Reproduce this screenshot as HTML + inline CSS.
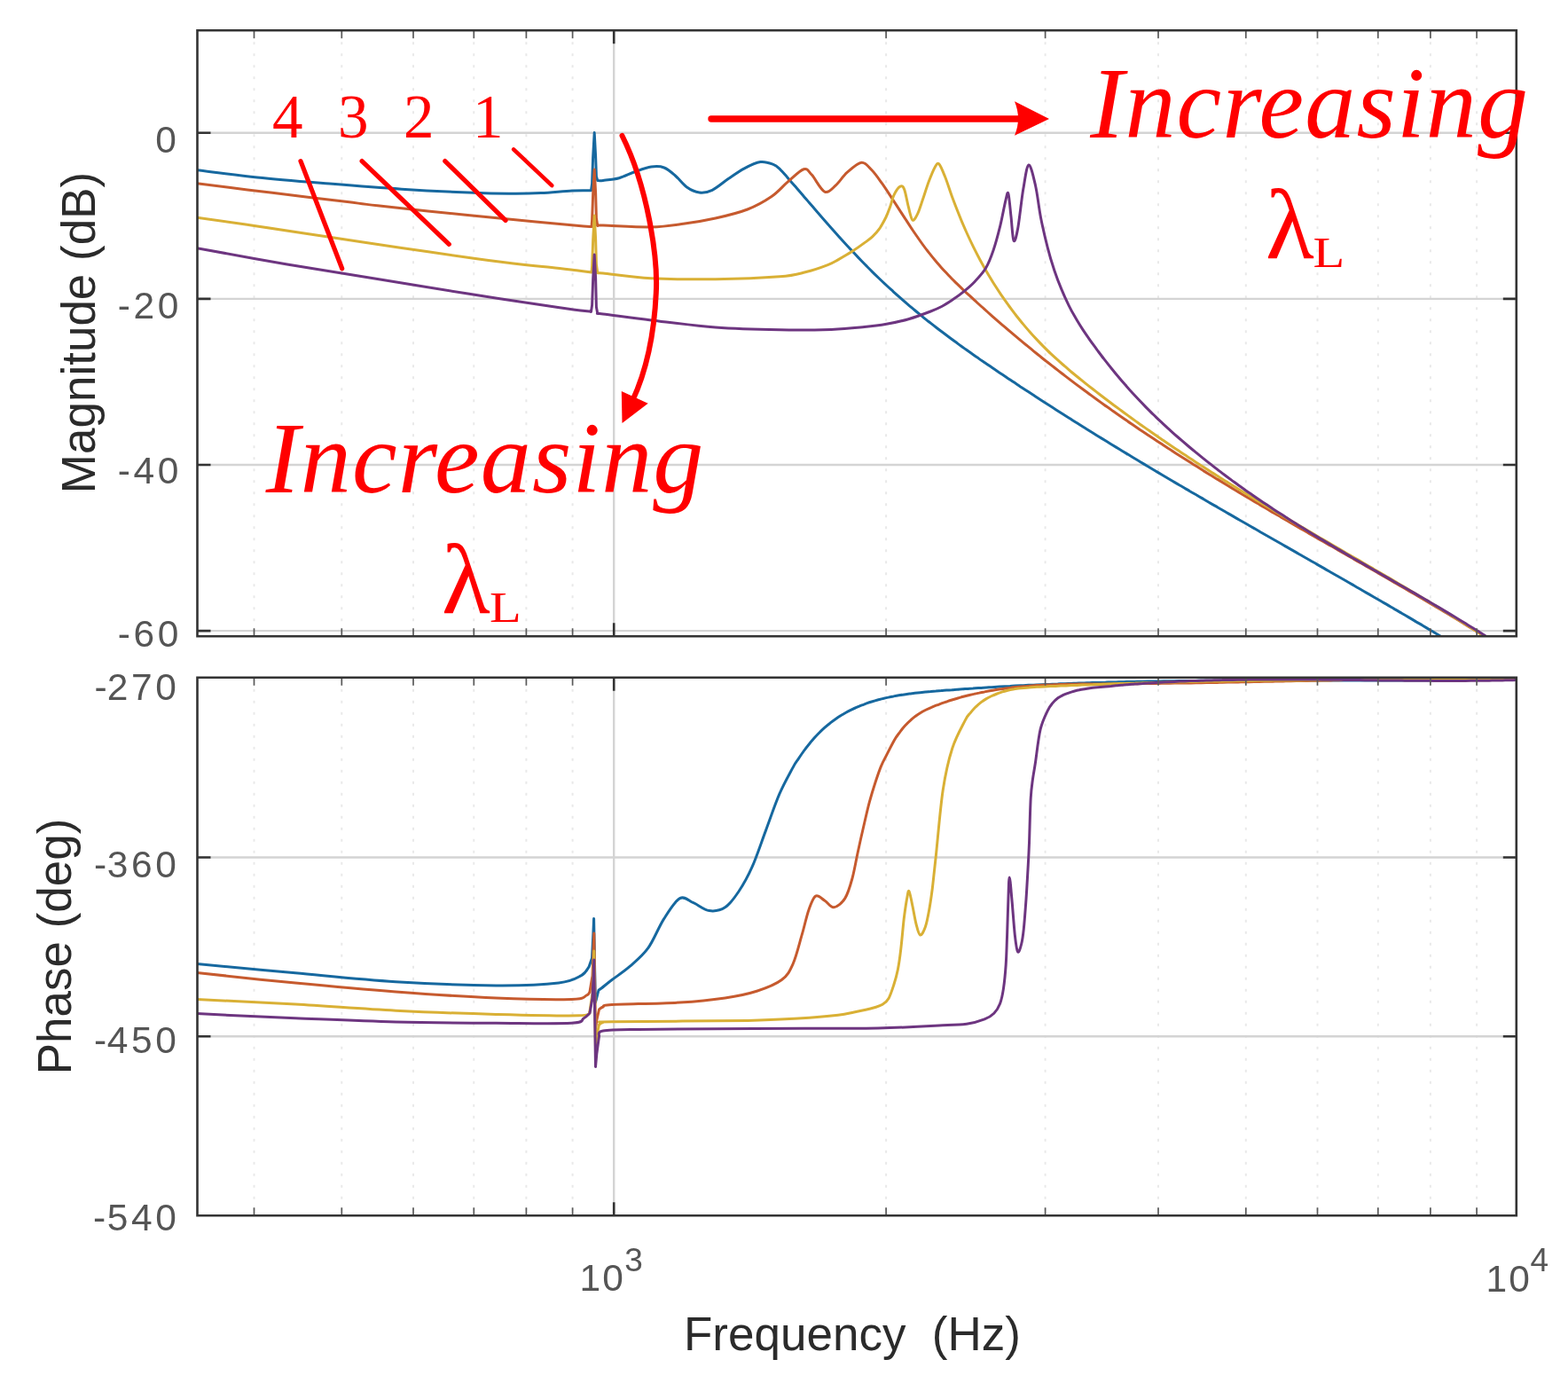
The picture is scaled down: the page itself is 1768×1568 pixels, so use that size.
<!DOCTYPE html><html><head><meta charset="utf-8"><title>Bode plot</title><style>
html,body{margin:0;padding:0;background:#fff;}svg{display:block;}
.tk{font-family:"Liberation Sans",Arial,sans-serif;font-size:42.5px;fill:#555;letter-spacing:3.6px;}
.lb{font-family:"Liberation Sans",Arial,sans-serif;font-size:53px;fill:#2b2b2b;}
.rd{font-family:"Liberation Serif","Times New Roman",serif;fill:#ff0000;}
</style></head><body>
<svg width="1768" height="1568" viewBox="0 0 1768 1568">
<rect width="1768" height="1568" fill="#fff"/>
<defs><clipPath id="cm"><rect x="222.5" y="34.3" width="1487.3" height="682.9"/></clipPath>
<clipPath id="cp"><rect x="222.5" y="763.8" width="1487.3" height="606.5"/></clipPath></defs>
<path d="M286.5 34.3V717.2M385.3 34.3V717.2M466.0 34.3V717.2M534.3 34.3V717.2M593.4 34.3V717.2M645.6 34.3V717.2M999.1 34.3V717.2M1178.6 34.3V717.2M1306.0 34.3V717.2M1404.8 34.3V717.2M1485.5 34.3V717.2M1553.8 34.3V717.2M1612.9 34.3V717.2M1665.1 34.3V717.2M286.5 763.8V1370.3M385.3 763.8V1370.3M466.0 763.8V1370.3M534.3 763.8V1370.3M593.4 763.8V1370.3M645.6 763.8V1370.3M999.1 763.8V1370.3M1178.6 763.8V1370.3M1306.0 763.8V1370.3M1404.8 763.8V1370.3M1485.5 763.8V1370.3M1553.8 763.8V1370.3M1612.9 763.8V1370.3M1665.1 763.8V1370.3" stroke="#e9e9e9" stroke-width="2" stroke-dasharray="3 10" fill="none"/>
<path d="M222.5 149.8H1709.8M222.5 336.9H1709.8M222.5 524.0H1709.8M222.5 711.1H1709.8M222.5 966.5H1709.8M222.5 1168.3H1709.8M692.2 34.3V717.2M692.2 763.8V1370.3" stroke="#d4d4d4" stroke-width="2.4" fill="none"/>
<g clip-path="url(#cm)" fill="none" stroke-width="3" stroke-linejoin="round">
<path d="M200.0 189.0C203.7 189.4 207.0 189.9 222.0 191.7C237.0 193.5 265.1 197.4 290.0 200.0C314.9 202.6 344.4 204.9 371.5 207.1C398.6 209.3 425.8 211.5 452.9 213.2C480.0 214.9 513.6 216.5 534.3 217.3C555.0 218.2 564.4 218.2 577.0 218.3C589.6 218.4 598.7 218.2 610.0 217.6C621.3 217.0 635.6 215.5 645.0 215.0C654.4 214.5 662.9 214.8 666.5 214.8L667.6 207.0L668.6 178.0L670.2 149.5L671.6 176.0L672.4 199.0L673.8 203.5C674.6 203.5 675.9 203.9 680.0 203.4C684.1 202.9 692.1 202.3 698.1 200.7C704.1 199.0 710.2 195.6 716.2 193.5C722.2 191.4 728.9 188.8 734.3 188.1C739.7 187.3 744.3 187.3 748.8 189.0C753.3 190.7 757.2 194.4 761.4 198.0C765.6 201.6 769.6 207.5 774.1 210.7C778.6 213.9 783.8 216.4 788.6 217.0C793.4 217.6 797.7 216.9 803.1 214.3C808.5 211.7 815.2 205.7 821.2 201.6C827.2 197.5 833.3 193.1 839.3 189.9C845.3 186.7 852.0 183.4 857.4 182.6C862.8 181.8 868.1 183.9 871.9 185.3C875.7 186.7 877.3 188.8 880.0 191.3C882.7 193.8 885.3 197.2 888.0 200.2C890.6 203.3 893.3 206.3 895.9 209.3C898.6 212.4 901.2 215.5 903.9 218.5C906.5 221.6 909.2 224.7 911.8 227.7C914.5 230.8 917.1 233.9 919.8 237.0C922.4 240.0 925.1 243.1 927.8 246.2C930.4 249.2 933.1 252.2 935.7 255.2C938.4 258.2 941.0 261.2 943.7 264.2C946.3 267.2 949.0 270.1 951.6 273.0C954.3 275.9 956.9 278.8 959.6 281.6C962.2 284.5 964.9 287.3 967.6 290.1C970.2 292.8 972.9 295.6 975.5 298.3C978.2 301.0 980.8 303.7 983.5 306.3C986.1 308.9 988.8 311.5 991.4 314.0C994.1 316.6 996.7 319.1 999.4 321.5C1002.0 324.0 1004.7 326.4 1007.3 328.8C1010.0 331.2 1012.7 333.6 1015.3 335.9C1018.0 338.3 1020.6 340.6 1023.3 342.8C1025.9 345.1 1028.6 347.3 1031.2 349.5C1033.9 351.8 1036.5 353.9 1039.2 356.1C1041.8 358.3 1044.5 360.4 1047.1 362.5C1049.8 364.6 1052.4 366.7 1055.1 368.7C1057.8 370.8 1060.4 372.8 1063.1 374.8C1065.7 376.8 1068.4 378.8 1071.0 380.8C1073.7 382.8 1076.3 384.7 1079.0 386.6C1081.6 388.6 1084.3 390.5 1086.9 392.4C1089.6 394.3 1092.2 396.2 1094.9 398.0C1097.6 399.9 1100.2 401.8 1102.9 403.6C1105.5 405.5 1108.2 407.3 1110.8 409.1C1113.5 410.9 1116.1 412.8 1118.8 414.6C1121.4 416.4 1124.1 418.2 1126.7 419.9C1129.4 421.7 1132.0 423.5 1134.7 425.3C1137.3 427.1 1140.0 428.8 1142.7 430.6C1145.3 432.4 1148.0 434.1 1150.6 435.9C1153.3 437.6 1155.9 439.4 1158.6 441.1C1161.2 442.9 1163.9 444.6 1166.5 446.3C1169.2 448.1 1171.8 449.8 1174.5 451.5C1177.1 453.2 1179.8 454.9 1182.4 456.6C1185.1 458.3 1187.8 460.0 1190.4 461.7C1193.1 463.4 1195.7 465.1 1198.4 466.8C1201.0 468.5 1203.7 470.2 1206.3 471.8C1209.0 473.5 1211.6 475.2 1214.3 476.8C1216.9 478.5 1219.6 480.2 1222.2 481.8C1224.9 483.5 1227.6 485.1 1230.2 486.8C1232.9 488.4 1235.5 490.1 1238.2 491.7C1240.8 493.3 1243.5 495.0 1246.1 496.6C1248.8 498.2 1251.4 499.9 1254.1 501.5C1256.7 503.1 1259.4 504.7 1262.0 506.3C1264.7 507.9 1267.3 509.5 1270.0 511.1C1272.7 512.8 1275.3 514.4 1278.0 516.0C1280.6 517.5 1283.3 519.1 1285.9 520.7C1288.6 522.3 1291.2 523.9 1293.9 525.5C1296.5 527.1 1299.2 528.7 1301.8 530.2C1304.5 531.8 1307.1 533.4 1309.8 535.0C1312.4 536.5 1315.1 538.1 1317.8 539.7C1320.4 541.2 1323.1 542.8 1325.7 544.4C1328.4 545.9 1331.0 547.5 1333.7 549.0C1336.3 550.6 1339.0 552.1 1341.6 553.7C1344.3 555.2 1346.9 556.8 1349.6 558.3C1352.2 559.9 1354.9 561.4 1357.6 563.0C1360.2 564.5 1362.9 566.0 1365.5 567.6C1368.2 569.1 1370.8 570.7 1373.5 572.2C1376.1 573.7 1378.8 575.3 1381.4 576.8C1384.1 578.3 1386.7 579.9 1389.4 581.4C1392.0 582.9 1394.7 584.4 1397.3 586.0C1400.0 587.5 1402.7 589.0 1405.3 590.5C1408.0 592.1 1410.6 593.6 1413.3 595.1C1415.9 596.6 1418.6 598.1 1421.2 599.7C1423.9 601.2 1426.5 602.7 1429.2 604.2C1431.8 605.7 1434.5 607.3 1437.1 608.8C1439.8 610.3 1442.4 611.8 1445.1 613.3C1447.8 614.8 1450.4 616.4 1453.1 617.9C1455.7 619.4 1458.4 620.9 1461.0 622.4C1463.7 623.9 1466.3 625.5 1469.0 627.0C1471.6 628.5 1474.3 630.0 1476.9 631.5C1479.6 633.0 1482.2 634.6 1484.9 636.1C1487.6 637.6 1490.2 639.1 1492.9 640.6C1495.5 642.2 1498.2 643.7 1500.8 645.2C1503.5 646.7 1506.1 648.2 1508.8 649.8C1511.4 651.3 1514.1 652.8 1516.7 654.3C1519.4 655.9 1522.0 657.4 1524.7 658.9C1527.3 660.4 1530.0 662.0 1532.7 663.5C1535.3 665.0 1538.0 666.5 1540.6 668.1C1543.3 669.6 1545.9 671.1 1548.6 672.7C1551.2 674.2 1553.9 675.8 1556.5 677.3C1559.2 678.8 1561.8 680.4 1564.5 681.9C1567.1 683.5 1569.8 685.0 1572.4 686.6C1575.1 688.1 1577.8 689.7 1580.4 691.2C1583.1 692.8 1585.7 694.3 1588.4 695.9C1591.0 697.4 1593.7 699.0 1596.3 700.6C1599.0 702.1 1601.6 703.7 1604.3 705.2C1606.9 706.8 1609.6 708.4 1612.2 710.0C1614.9 711.5 1617.6 713.1 1620.2 714.7C1622.9 716.3 1625.5 717.9 1628.2 719.4C1630.8 721.0 1633.5 722.6 1636.1 724.2C1638.8 725.8 1641.4 727.4 1644.1 729.0C1646.7 730.6 1649.4 732.2 1652.0 733.8C1654.7 735.4 1658.7 737.8 1660.0 738.6" stroke="#16689f"/>
<path d="M200.0 203.8C203.7 204.3 208.8 205.1 222.0 206.8C235.2 208.5 260.2 211.6 279.0 213.9C297.8 216.2 316.2 218.4 335.0 220.7C353.8 223.0 376.6 225.7 391.7 227.5C406.8 229.3 403.0 229.3 425.6 231.8C448.2 234.3 497.7 239.6 527.4 242.6C557.1 245.6 583.6 248.1 604.0 250.0C624.4 251.9 639.5 253.4 650.0 254.3C660.5 255.2 664.2 255.4 667.0 255.6L667.6 248.0L668.7 218.0L670.2 191.0L671.6 217.0L672.4 246.0L673.8 254.5C674.6 254.4 669.9 253.9 680.0 254.1C690.1 254.3 719.2 256.2 734.3 255.9C749.4 255.6 758.4 254.0 770.5 252.3C782.6 250.7 794.6 248.7 806.7 246.0C818.8 243.3 832.4 240.1 842.9 236.0C853.4 231.9 862.5 226.6 870.0 221.5C877.5 216.4 882.1 210.3 888.1 205.2C894.1 200.1 901.7 192.2 906.2 190.8C910.7 189.5 911.4 192.9 915.3 197.1C919.2 201.3 925.3 214.1 929.8 216.1C934.3 218.1 938.2 212.5 942.4 208.9C946.6 205.3 950.2 198.7 955.1 194.4C960.0 190.1 966.9 183.6 971.5 183.2C976.1 182.8 979.2 187.9 983.0 191.8C986.8 195.7 990.7 201.4 994.5 206.7C998.3 212.0 1002.7 218.9 1005.9 223.8C1009.1 228.7 1011.2 232.0 1013.9 236.1C1016.5 240.2 1019.2 244.4 1021.9 248.4C1024.5 252.5 1027.2 256.6 1029.8 260.5C1032.5 264.4 1035.2 268.3 1037.8 272.0C1040.5 275.8 1043.1 279.4 1045.8 282.8C1048.5 286.2 1051.1 289.5 1053.8 292.7C1056.4 295.9 1059.1 298.9 1061.7 301.9C1064.4 304.9 1067.1 307.7 1069.7 310.5C1072.4 313.3 1075.0 315.9 1077.7 318.6C1080.4 321.2 1083.0 323.8 1085.7 326.3C1088.3 328.8 1091.0 331.3 1093.7 333.7C1096.3 336.2 1099.0 338.6 1101.6 341.0C1104.3 343.4 1107.0 345.8 1109.6 348.2C1112.3 350.6 1114.9 352.9 1117.6 355.3C1120.3 357.6 1122.9 360.0 1125.6 362.3C1128.2 364.6 1130.9 366.9 1133.6 369.1C1136.2 371.4 1138.9 373.7 1141.5 375.9C1144.2 378.2 1146.8 380.4 1149.5 382.6C1152.2 384.9 1154.8 387.1 1157.5 389.2C1160.1 391.4 1162.8 393.6 1165.5 395.8C1168.1 397.9 1170.8 400.1 1173.4 402.2C1176.1 404.3 1178.8 406.4 1181.4 408.5C1184.1 410.6 1186.7 412.7 1189.4 414.8C1192.1 416.9 1194.7 418.9 1197.4 421.0C1200.0 423.0 1202.7 425.0 1205.4 427.1C1208.0 429.1 1210.7 431.1 1213.3 433.1C1216.0 435.1 1218.7 437.1 1221.3 439.0C1224.0 441.0 1226.6 443.0 1229.3 444.9C1231.9 446.9 1234.6 448.8 1237.3 450.7C1239.9 452.6 1242.6 454.6 1245.2 456.5C1247.9 458.4 1250.6 460.2 1253.2 462.1C1255.9 464.0 1258.5 465.9 1261.2 467.7C1263.9 469.6 1266.5 471.4 1269.2 473.3C1271.8 475.1 1274.5 476.9 1277.2 478.7C1279.8 480.5 1282.5 482.4 1285.1 484.2C1287.8 485.9 1290.5 487.7 1293.1 489.5C1295.8 491.3 1298.4 493.1 1301.1 494.8C1303.8 496.6 1306.4 498.3 1309.1 500.1C1311.7 501.8 1314.4 503.5 1317.0 505.3C1319.7 507.0 1322.4 508.7 1325.0 510.4C1327.7 512.1 1330.3 513.8 1333.0 515.5C1335.7 517.2 1338.3 518.9 1341.0 520.6C1343.6 522.3 1346.3 523.9 1349.0 525.6C1351.6 527.3 1354.3 528.9 1356.9 530.6C1359.6 532.2 1362.3 533.9 1364.9 535.5C1367.6 537.1 1370.2 538.8 1372.9 540.4C1375.6 542.0 1378.2 543.6 1380.9 545.3C1383.5 546.9 1386.2 548.5 1388.9 550.1C1391.5 551.7 1394.2 553.3 1396.8 554.9C1399.5 556.5 1402.1 558.1 1404.8 559.6C1407.5 561.2 1410.1 562.8 1412.8 564.4C1415.4 566.0 1418.1 567.5 1420.8 569.1C1423.4 570.7 1426.1 572.2 1428.7 573.8C1431.4 575.4 1434.1 576.9 1436.7 578.5C1439.4 580.0 1442.0 581.6 1444.7 583.1C1447.4 584.7 1450.0 586.2 1452.7 587.8C1455.3 589.3 1458.0 590.8 1460.7 592.4C1463.3 593.9 1466.0 595.4 1468.6 597.0C1471.3 598.5 1474.0 600.0 1476.6 601.6C1479.3 603.1 1481.9 604.6 1484.6 606.2C1487.2 607.7 1489.9 609.2 1492.6 610.7C1495.2 612.3 1497.9 613.8 1500.5 615.3C1503.2 616.8 1505.9 618.4 1508.5 619.9C1511.2 621.4 1513.8 622.9 1516.5 624.4C1519.2 626.0 1521.8 627.5 1524.5 629.0C1527.1 630.5 1529.8 632.1 1532.5 633.6C1535.1 635.1 1537.8 636.6 1540.4 638.2C1543.1 639.7 1545.8 641.2 1548.4 642.8C1551.1 644.3 1553.7 645.8 1556.4 647.4C1559.1 648.9 1561.7 650.4 1564.4 652.0C1567.0 653.5 1569.7 655.0 1572.3 656.6C1575.0 658.1 1577.7 659.7 1580.3 661.2C1583.0 662.8 1585.6 664.3 1588.3 665.9C1591.0 667.4 1593.6 669.0 1596.3 670.5C1598.9 672.1 1601.6 673.7 1604.3 675.2C1606.9 676.8 1609.6 678.4 1612.2 679.9C1614.9 681.5 1617.6 683.1 1620.2 684.7C1622.9 686.3 1625.5 687.8 1628.2 689.4C1630.9 691.0 1633.5 692.6 1636.2 694.2C1638.8 695.8 1641.5 697.4 1644.2 699.1C1646.8 700.7 1649.5 702.3 1652.1 703.9C1654.8 705.6 1657.4 707.2 1660.1 708.8C1662.8 710.5 1665.4 712.1 1668.1 713.8C1670.7 715.4 1673.4 717.1 1676.1 718.7C1678.7 720.4 1681.4 722.1 1684.0 723.7C1686.7 725.4 1689.4 727.1 1692.0 728.8C1694.7 730.5 1698.7 733.0 1700.0 733.9" stroke="#c65a2e"/>
<path d="M200.0 242.0C203.7 242.6 207.0 243.2 222.0 245.3C237.0 247.5 265.1 251.2 290.0 254.9C314.9 258.6 344.4 263.1 371.5 267.2C398.6 271.3 425.8 275.4 452.9 279.4C480.0 283.4 511.2 288.0 534.3 291.2C557.4 294.4 577.1 296.9 591.7 298.6C606.3 300.3 612.3 300.5 622.0 301.5C631.7 302.5 642.5 303.9 650.0 304.8C657.5 305.7 664.2 306.6 667.0 307.0L667.6 300.0L668.7 270.0L670.2 243.0L671.6 269.0L672.4 298.0L673.8 307.8C674.6 307.8 669.9 307.0 680.0 308.0C690.1 309.0 713.2 312.7 734.3 313.8C755.4 314.9 782.6 315.0 806.7 314.7C830.8 314.4 862.2 313.1 879.1 311.8C896.0 310.5 899.0 309.0 908.0 306.8C917.0 304.6 927.2 301.0 933.4 298.6C939.6 296.2 940.8 295.1 945.3 292.6C949.8 290.1 955.5 286.9 960.6 283.6C965.7 280.3 972.1 275.7 975.9 272.9C979.7 270.1 981.0 269.2 983.6 266.8C986.2 264.4 988.7 262.0 991.2 258.4C993.8 254.8 996.8 249.2 998.9 245.0C1001.0 240.8 1002.0 237.5 1003.6 233.2C1005.2 228.9 1006.3 223.2 1008.2 219.4C1010.1 215.6 1013.2 211.2 1015.1 210.2C1017.0 209.2 1018.2 209.8 1019.7 213.6C1021.2 217.4 1022.8 227.4 1024.3 233.2C1025.8 238.9 1027.2 246.8 1028.9 248.1C1030.6 249.4 1032.7 245.0 1034.6 241.2C1036.5 237.4 1038.3 231.2 1040.4 225.1C1042.5 219.0 1045.0 210.6 1047.3 204.5C1049.6 198.4 1052.3 191.7 1054.2 188.4C1056.1 185.1 1056.9 183.1 1058.8 184.9C1060.7 186.7 1063.1 193.1 1065.6 199.3C1068.1 205.4 1070.9 214.7 1073.5 221.8C1076.2 229.0 1078.8 235.8 1081.5 242.3C1084.1 248.9 1086.7 255.0 1089.4 261.0C1092.0 266.9 1094.7 272.5 1097.3 277.9C1100.0 283.3 1102.6 288.4 1105.2 293.3C1107.9 298.3 1110.5 302.9 1113.2 307.5C1115.8 312.0 1118.5 316.3 1121.1 320.5C1123.8 324.7 1126.4 328.7 1129.0 332.6C1131.7 336.5 1134.3 340.3 1137.0 343.9C1139.6 347.6 1142.3 351.1 1144.9 354.5C1147.5 357.9 1150.2 361.2 1152.8 364.4C1155.5 367.6 1158.1 370.7 1160.8 373.7C1163.4 376.7 1166.0 379.6 1168.7 382.4C1171.3 385.2 1174.0 388.0 1176.6 390.6C1179.3 393.3 1181.9 395.9 1184.5 398.4C1187.2 400.9 1189.8 403.3 1192.5 405.7C1195.1 408.1 1197.8 410.4 1200.4 412.7C1203.1 415.0 1205.7 417.3 1208.3 419.5C1211.0 421.7 1213.6 423.8 1216.3 426.0C1218.9 428.1 1221.6 430.2 1224.2 432.3C1226.8 434.4 1229.5 436.5 1232.1 438.5C1234.8 440.6 1237.4 442.6 1240.1 444.7C1242.7 446.7 1245.3 448.7 1248.0 450.7C1250.6 452.7 1253.3 454.7 1255.9 456.7C1258.6 458.6 1261.2 460.6 1263.8 462.5C1266.5 464.5 1269.1 466.4 1271.8 468.4C1274.4 470.3 1277.1 472.2 1279.7 474.1C1282.4 476.0 1285.0 477.9 1287.6 479.7C1290.3 481.6 1292.9 483.5 1295.6 485.3C1298.2 487.2 1300.9 489.0 1303.5 490.8C1306.1 492.7 1308.8 494.5 1311.4 496.3C1314.1 498.1 1316.7 499.9 1319.4 501.7C1322.0 503.5 1324.6 505.3 1327.3 507.0C1329.9 508.8 1332.6 510.5 1335.2 512.3C1337.9 514.0 1340.5 515.8 1343.2 517.5C1345.8 519.2 1348.4 521.0 1351.1 522.7C1353.7 524.4 1356.4 526.1 1359.0 527.8C1361.7 529.5 1364.3 531.2 1366.9 532.9C1369.6 534.5 1372.2 536.2 1374.9 537.9C1377.5 539.5 1380.2 541.2 1382.8 542.9C1385.4 544.5 1388.1 546.1 1390.7 547.8C1393.4 549.4 1396.0 551.1 1398.7 552.7C1401.3 554.3 1403.9 555.9 1406.6 557.5C1409.2 559.2 1411.9 560.8 1414.5 562.4C1417.2 564.0 1419.8 565.6 1422.4 567.2C1425.1 568.8 1427.7 570.4 1430.4 571.9C1433.0 573.5 1435.7 575.1 1438.3 576.7C1441.0 578.3 1443.6 579.8 1446.2 581.4C1448.9 583.0 1451.5 584.5 1454.2 586.1C1456.8 587.7 1459.5 589.2 1462.1 590.8C1464.7 592.3 1467.4 593.9 1470.0 595.4C1472.7 597.0 1475.3 598.5 1478.0 600.1C1480.6 601.6 1483.2 603.2 1485.9 604.7C1488.5 606.3 1491.2 607.8 1493.8 609.3C1496.5 610.9 1499.1 612.4 1501.8 614.0C1504.4 615.5 1507.0 617.0 1509.7 618.6C1512.3 620.1 1515.0 621.6 1517.6 623.2C1520.3 624.7 1522.9 626.3 1525.5 627.8C1528.2 629.3 1530.8 630.9 1533.5 632.4C1536.1 633.9 1538.8 635.5 1541.4 637.0C1544.0 638.6 1546.7 640.1 1549.3 641.7C1552.0 643.2 1554.6 644.7 1557.3 646.3C1559.9 647.8 1562.5 649.4 1565.2 650.9C1567.8 652.5 1570.5 654.1 1573.1 655.6C1575.8 657.2 1578.4 658.7 1581.0 660.3C1583.7 661.9 1586.3 663.4 1589.0 665.0C1591.6 666.6 1594.3 668.2 1596.9 669.7C1599.6 671.3 1602.2 672.9 1604.8 674.5C1607.5 676.1 1610.1 677.7 1612.8 679.3C1615.4 680.9 1618.1 682.5 1620.7 684.1C1623.3 685.7 1626.0 687.3 1628.6 688.9C1631.3 690.5 1633.9 692.2 1636.6 693.8C1639.2 695.4 1641.8 697.1 1644.5 698.7C1647.1 700.4 1649.8 702.0 1652.4 703.7C1655.1 705.3 1657.7 707.0 1660.3 708.7C1663.0 710.3 1665.6 712.0 1668.3 713.7C1670.9 715.4 1673.6 717.1 1676.2 718.8C1678.9 720.5 1681.5 722.2 1684.1 723.9C1686.8 725.6 1689.4 727.4 1692.1 729.1C1694.7 730.8 1698.7 733.5 1700.0 734.3" stroke="#d9b035"/>
<path d="M200.0 276.0C203.7 276.6 201.4 276.0 222.0 279.7C242.6 283.4 289.9 292.2 323.8 298.0C357.7 303.8 391.7 309.0 425.6 314.5C459.5 320.0 493.5 325.8 527.4 331.1C561.3 336.4 606.0 343.0 629.2 346.4C652.4 349.8 660.3 350.6 666.5 351.4L667.6 344.0L668.7 314.0L670.2 287.0L671.6 313.0L672.4 346.0L673.8 353.6C674.6 353.7 669.9 352.8 680.0 354.0C690.1 355.2 713.2 358.4 734.3 360.9C755.4 363.4 782.6 367.2 806.7 369.0C830.8 370.8 857.3 371.4 879.1 371.8C900.9 372.2 921.4 371.9 937.3 371.4C953.2 370.9 964.3 369.6 974.7 368.6C985.1 367.6 991.3 366.8 999.6 365.3C1007.9 363.8 1016.1 362.1 1024.4 359.7C1032.7 357.3 1043.1 353.4 1049.3 351.0C1055.5 348.6 1057.6 347.7 1061.8 345.5C1066.0 343.3 1070.0 340.6 1074.2 337.8C1078.4 335.0 1082.6 332.0 1086.7 328.6C1090.8 325.2 1095.0 321.8 1099.1 317.4C1103.2 313.0 1108.0 308.2 1111.5 302.3C1115.0 296.4 1117.4 289.9 1120.1 282.0C1122.8 274.1 1125.4 264.2 1127.7 254.9C1130.0 245.6 1132.3 232.4 1133.8 226.3C1135.3 220.2 1135.9 215.1 1136.9 218.1C1137.9 221.1 1139.0 235.3 1140.0 244.2C1141.0 253.0 1141.7 268.9 1143.0 271.2C1144.3 273.5 1145.8 267.5 1147.6 257.9C1149.4 248.3 1151.7 225.6 1153.7 213.6C1155.8 201.6 1157.6 186.8 1159.9 186.0C1162.2 185.2 1165.2 199.1 1167.5 209.0C1169.8 218.9 1171.3 234.0 1173.6 245.7C1175.9 257.4 1178.8 269.5 1181.3 279.4C1183.8 289.3 1186.3 297.2 1188.9 305.0C1191.5 312.8 1194.2 319.7 1196.9 326.2C1199.5 332.6 1202.2 338.4 1204.9 343.8C1207.5 349.2 1210.2 354.0 1212.9 358.6C1215.5 363.2 1218.2 367.4 1220.8 371.4C1223.5 375.5 1226.2 379.3 1228.8 383.1C1231.5 386.9 1234.2 390.5 1236.8 394.1C1239.5 397.7 1242.1 401.2 1244.8 404.7C1247.5 408.2 1250.1 411.5 1252.8 414.8C1255.4 418.1 1258.1 421.4 1260.8 424.5C1263.4 427.7 1266.1 430.8 1268.8 433.8C1271.4 436.9 1274.1 439.9 1276.7 442.8C1279.4 445.7 1282.1 448.5 1284.7 451.3C1287.4 454.1 1290.1 456.9 1292.7 459.6C1295.4 462.3 1298.0 464.9 1300.7 467.5C1303.4 470.1 1306.0 472.7 1308.7 475.2C1311.4 477.7 1314.0 480.2 1316.7 482.6C1319.3 485.0 1322.0 487.4 1324.7 489.8C1327.3 492.1 1330.0 494.4 1332.6 496.7C1335.3 499.0 1338.0 501.3 1340.6 503.5C1343.3 505.8 1346.0 508.0 1348.6 510.1C1351.3 512.3 1353.9 514.5 1356.6 516.6C1359.3 518.7 1361.9 520.9 1364.6 522.9C1367.3 525.0 1369.9 527.1 1372.6 529.1C1375.2 531.2 1377.9 533.2 1380.6 535.2C1383.2 537.2 1385.9 539.2 1388.5 541.1C1391.2 543.1 1393.9 545.0 1396.5 547.0C1399.2 548.9 1401.9 550.8 1404.5 552.7C1407.2 554.5 1409.8 556.4 1412.5 558.2C1415.2 560.1 1417.8 561.9 1420.5 563.7C1423.2 565.5 1425.8 567.3 1428.5 569.1C1431.1 570.9 1433.8 572.7 1436.5 574.4C1439.1 576.2 1441.8 577.9 1444.5 579.6C1447.1 581.4 1449.8 583.1 1452.4 584.8C1455.1 586.5 1457.8 588.1 1460.4 589.8C1463.1 591.5 1465.7 593.2 1468.4 594.8C1471.1 596.5 1473.7 598.1 1476.4 599.7C1479.1 601.4 1481.7 603.0 1484.4 604.6C1487.0 606.2 1489.7 607.8 1492.4 609.4C1495.0 611.0 1497.7 612.6 1500.4 614.1C1503.0 615.7 1505.7 617.3 1508.3 618.9C1511.0 620.4 1513.7 622.0 1516.3 623.5C1519.0 625.1 1521.6 626.6 1524.3 628.2C1527.0 629.7 1529.6 631.3 1532.3 632.8C1535.0 634.3 1537.6 635.9 1540.3 637.4C1542.9 638.9 1545.6 640.4 1548.3 642.0C1550.9 643.5 1553.6 645.0 1556.3 646.5C1558.9 648.1 1561.6 649.6 1564.2 651.1C1566.9 652.6 1569.6 654.1 1572.2 655.7C1574.9 657.2 1577.5 658.7 1580.2 660.2C1582.9 661.8 1585.5 663.3 1588.2 664.8C1590.9 666.3 1593.5 667.9 1596.2 669.4C1598.8 671.0 1601.5 672.5 1604.2 674.0C1606.8 675.6 1609.5 677.1 1612.2 678.7C1614.8 680.2 1617.5 681.8 1620.1 683.4C1622.8 684.9 1625.5 686.5 1628.1 688.1C1630.8 689.7 1633.5 691.3 1636.1 692.9C1638.8 694.5 1641.4 696.1 1644.1 697.7C1646.8 699.3 1649.4 700.9 1652.1 702.6C1654.7 704.2 1657.4 705.9 1660.1 707.5C1662.7 709.2 1665.4 710.8 1668.1 712.5C1670.7 714.2 1673.4 715.9 1676.0 717.6C1678.7 719.3 1681.4 721.0 1684.0 722.7C1686.7 724.5 1689.4 726.2 1692.0 728.0C1694.7 729.7 1698.7 732.4 1700.0 733.3" stroke="#6d3580"/>
</g>
<g clip-path="url(#cp)" fill="none" stroke-width="3" stroke-linejoin="round">
<path d="M200.0 1083.0C203.7 1083.6 199.8 1084.2 222.0 1086.5C244.2 1088.8 295.7 1093.4 333.1 1096.8C370.5 1100.2 408.5 1104.3 446.2 1106.7C483.9 1109.1 528.8 1110.7 559.4 1110.9C590.0 1111.1 614.0 1109.9 630.0 1108.0C646.0 1106.1 649.8 1102.6 655.5 1099.6C661.2 1096.6 662.6 1091.6 664.0 1090.0L667.5 1080.0L669.0 1050.0L669.6 1035.5L670.4 1080.0L671.3 1130.0L672.5 1126.0L675.0 1116.0C675.5 1115.7 675.6 1115.9 678.1 1114.0C680.6 1112.1 684.6 1108.6 690.0 1104.5C695.4 1100.4 703.6 1095.2 710.4 1089.2C717.2 1083.2 724.4 1077.6 730.8 1068.7C737.2 1059.8 742.7 1044.9 748.7 1035.6C754.7 1026.2 761.1 1015.6 766.6 1012.6C772.1 1009.6 776.4 1015.4 781.9 1017.7C787.4 1020.0 793.8 1025.8 799.7 1026.6C805.7 1027.4 812.1 1026.4 817.6 1022.8C823.1 1019.2 827.8 1012.6 832.9 1005.0C838.0 997.4 843.1 988.4 848.2 976.9C853.3 965.4 858.4 949.7 863.5 936.1C868.6 922.5 873.7 907.0 878.8 895.2C883.9 883.4 890.6 871.7 894.1 865.1C897.6 858.5 898.1 858.6 900.1 855.6C902.1 852.6 904.1 849.7 906.0 847.0C908.0 844.2 910.0 841.6 912.0 839.2C914.0 836.7 916.0 834.4 918.0 832.1C920.0 829.9 922.0 827.8 924.0 825.8C925.9 823.8 927.9 822.0 929.9 820.2C931.9 818.4 933.9 816.7 935.9 815.2C937.9 813.6 939.9 812.1 941.9 810.7C943.9 809.3 945.8 808.0 947.8 806.7C949.8 805.5 951.8 804.3 953.8 803.2C955.8 802.1 957.8 801.1 959.8 800.1C961.8 799.2 963.8 798.3 965.7 797.4C967.7 796.5 969.7 795.7 971.7 794.9C973.7 794.2 975.7 793.4 977.7 792.7C979.7 792.0 981.7 791.4 983.7 790.8C985.7 790.2 987.6 789.6 989.6 789.0C991.6 788.5 993.6 787.9 995.6 787.5C997.6 787.0 999.6 786.5 1001.6 786.1C1003.6 785.6 1005.6 785.2 1007.5 784.9C1009.5 784.5 1011.5 784.1 1013.5 783.8C1015.5 783.5 1017.5 783.2 1019.5 782.9C1021.5 782.6 1023.5 782.3 1025.5 782.0C1027.4 781.8 1029.4 781.5 1031.4 781.3C1033.4 781.1 1035.4 780.9 1037.4 780.7C1039.4 780.5 1041.4 780.3 1043.4 780.1C1045.4 779.9 1047.3 779.7 1049.3 779.6C1051.3 779.4 1053.3 779.2 1055.3 779.1C1057.3 778.9 1059.3 778.7 1061.3 778.6C1063.3 778.4 1065.3 778.3 1067.3 778.1C1069.2 778.0 1071.2 777.8 1073.2 777.7C1075.2 777.5 1077.2 777.4 1079.2 777.2C1081.2 777.1 1083.2 776.9 1085.2 776.8C1087.2 776.7 1089.1 776.5 1091.1 776.4C1093.1 776.2 1095.1 776.1 1097.1 776.0C1099.1 775.8 1101.1 775.7 1103.1 775.6C1105.1 775.5 1107.1 775.3 1109.0 775.2C1111.0 775.1 1113.0 775.0 1115.0 774.8C1117.0 774.7 1119.0 774.6 1121.0 774.5C1123.0 774.4 1125.0 774.2 1127.0 774.1C1128.9 774.0 1130.9 773.9 1132.9 773.8C1134.9 773.7 1136.9 773.6 1138.9 773.5C1140.9 773.3 1142.9 773.2 1144.9 773.1C1146.9 773.0 1148.9 772.9 1150.8 772.8C1152.8 772.7 1154.8 772.6 1156.8 772.5C1158.8 772.4 1160.8 772.3 1162.8 772.2C1164.8 772.2 1166.8 772.1 1168.8 772.0C1170.7 771.9 1172.7 771.8 1174.7 771.7C1176.7 771.6 1178.7 771.5 1180.7 771.4C1182.7 771.4 1184.7 771.3 1186.7 771.2C1188.7 771.1 1190.6 771.0 1192.6 771.0C1194.6 770.9 1196.6 770.8 1198.6 770.7C1200.6 770.7 1202.6 770.6 1204.6 770.5C1206.6 770.4 1208.6 770.4 1210.5 770.3C1212.5 770.2 1214.5 770.2 1216.5 770.1C1218.5 770.0 1220.5 770.0 1222.5 769.9C1224.5 769.8 1226.5 769.8 1228.5 769.7C1230.5 769.6 1232.4 769.6 1234.4 769.5C1236.4 769.5 1238.4 769.4 1240.4 769.4C1242.4 769.3 1244.4 769.2 1246.4 769.2C1248.4 769.1 1250.4 769.1 1252.3 769.0C1254.3 769.0 1256.3 768.9 1258.3 768.9C1260.3 768.8 1262.3 768.8 1264.3 768.7C1266.3 768.7 1268.3 768.6 1270.3 768.6C1272.2 768.6 1274.2 768.5 1276.2 768.5C1278.2 768.4 1280.2 768.4 1282.2 768.3C1284.2 768.3 1286.2 768.3 1288.2 768.2C1290.2 768.2 1292.1 768.2 1294.1 768.1C1296.1 768.1 1298.1 768.1 1300.1 768.0C1302.1 768.0 1304.1 768.0 1306.1 767.9C1308.1 767.9 1310.1 767.9 1312.0 767.8C1314.0 767.8 1316.0 767.8 1318.0 767.7C1320.0 767.7 1322.0 767.7 1324.0 767.7C1326.0 767.6 1328.0 767.6 1330.0 767.6C1332.0 767.6 1333.9 767.5 1335.9 767.5C1337.9 767.5 1339.9 767.5 1341.9 767.4C1343.9 767.4 1345.9 767.4 1347.9 767.4C1349.9 767.4 1351.9 767.3 1353.8 767.3C1355.8 767.3 1357.8 767.3 1359.8 767.3C1361.8 767.3 1363.8 767.2 1365.8 767.2C1367.8 767.2 1369.8 767.2 1371.8 767.2C1373.7 767.2 1375.7 767.2 1377.7 767.1C1379.7 767.1 1381.7 767.1 1383.7 767.1C1385.7 767.1 1387.7 767.1 1389.7 767.1C1391.7 767.1 1393.6 767.1 1395.6 767.0C1397.6 767.0 1399.6 767.0 1401.6 767.0C1403.6 767.0 1405.6 767.0 1407.6 767.0C1409.6 767.0 1411.6 767.0 1413.6 767.0C1415.5 767.0 1417.5 767.0 1419.5 767.0C1421.5 767.0 1423.5 767.0 1425.5 766.9C1427.5 766.9 1429.5 766.9 1431.5 766.9C1433.5 766.9 1435.4 766.9 1437.4 766.9C1439.4 766.9 1441.4 766.9 1443.4 766.9C1445.4 766.9 1447.4 766.9 1449.4 766.9C1451.4 766.9 1453.4 766.9 1455.3 766.9C1457.3 766.9 1459.3 766.9 1461.3 766.9C1463.3 766.9 1465.3 766.9 1467.3 766.9C1469.3 766.9 1471.3 766.9 1473.3 766.9C1475.2 766.9 1477.2 766.9 1479.2 766.9C1481.2 766.9 1483.2 766.9 1485.2 766.9C1487.2 766.9 1489.2 766.9 1491.2 766.9C1493.2 766.9 1495.2 766.9 1497.1 766.9C1499.1 766.9 1501.1 766.9 1503.1 766.9C1505.1 766.9 1507.1 766.9 1509.1 766.9C1511.1 766.9 1513.1 766.9 1515.1 766.9C1517.0 766.9 1519.0 766.9 1521.0 766.9C1523.0 766.9 1525.0 766.9 1527.0 766.9C1529.0 766.9 1531.0 766.9 1533.0 766.9C1535.0 766.9 1536.9 766.9 1538.9 766.9C1540.9 766.9 1542.9 766.9 1544.9 766.9C1546.9 766.9 1548.9 766.9 1550.9 766.9C1552.9 766.9 1554.9 766.9 1556.8 766.9C1558.8 766.9 1560.8 766.9 1562.8 766.9C1564.8 766.9 1566.8 766.9 1568.8 766.9C1570.8 766.9 1572.8 766.9 1574.8 766.9C1576.8 766.9 1578.7 766.9 1580.7 766.9C1582.7 766.9 1584.7 766.9 1586.7 766.9C1588.7 766.9 1590.7 766.9 1592.7 766.9C1594.7 766.9 1596.7 766.9 1598.6 766.9C1600.6 766.9 1602.6 766.9 1604.6 766.9C1606.6 766.9 1608.6 766.9 1610.6 766.9C1612.6 766.9 1614.6 766.8 1616.6 766.8C1618.5 766.8 1620.5 766.8 1622.5 766.8C1624.5 766.8 1626.5 766.8 1628.5 766.8C1630.5 766.8 1632.5 766.8 1634.5 766.8C1636.5 766.7 1638.4 766.7 1640.4 766.7C1642.4 766.7 1644.4 766.7 1646.4 766.7C1648.4 766.7 1650.4 766.7 1652.4 766.6C1654.4 766.6 1656.4 766.6 1658.4 766.6C1660.3 766.6 1662.3 766.6 1664.3 766.6C1666.3 766.5 1668.3 766.5 1670.3 766.5C1672.3 766.5 1674.3 766.5 1676.3 766.4C1678.3 766.4 1680.2 766.4 1682.2 766.4C1684.2 766.4 1686.2 766.3 1688.2 766.3C1690.2 766.3 1692.2 766.3 1694.2 766.2C1696.2 766.2 1698.2 766.2 1700.1 766.2C1702.1 766.1 1704.1 766.1 1706.1 766.1C1708.1 766.1 1710.1 766.0 1712.1 766.0C1714.1 766.0 1716.1 765.9 1718.1 765.9C1720.0 765.9 1722.0 765.8 1724.0 765.8C1726.0 765.8 1729.0 765.7 1730.0 765.7" stroke="#16689f"/>
<path d="M200.0 1093.0C203.7 1093.6 199.8 1094.0 222.0 1096.5C244.2 1099.0 295.7 1104.5 333.1 1108.1C370.5 1111.7 408.5 1115.2 446.2 1118.0C483.9 1120.8 526.4 1123.6 559.4 1125.0C592.4 1126.4 627.2 1127.0 644.2 1126.5C661.2 1126.0 657.7 1123.6 661.2 1122.2C664.7 1120.8 664.4 1118.7 665.0 1118.0L668.0 1100.0L669.3 1065.0L669.8 1052.0L670.6 1100.0L671.5 1160.0L672.8 1150.0L675.5 1138.0C676.2 1137.5 677.6 1135.9 680.0 1135.0C682.4 1134.1 675.6 1133.3 690.0 1132.5C704.4 1131.7 745.3 1131.3 766.6 1130.0C787.9 1128.7 803.2 1127.0 817.6 1124.9C832.0 1122.8 842.7 1120.6 853.3 1117.2C863.9 1113.8 874.6 1109.6 881.4 1104.5C888.2 1099.4 890.3 1095.1 894.1 1086.6C897.9 1078.1 901.3 1063.6 904.3 1053.4C907.3 1043.2 909.4 1032.6 912.0 1025.4C914.6 1018.2 916.7 1011.8 919.7 1010.1C922.7 1008.4 926.5 1013.1 929.9 1015.2C933.3 1017.3 936.3 1023.2 940.1 1022.8C943.9 1022.4 949.3 1018.1 952.8 1012.6C956.3 1007.1 958.6 998.8 961.0 990.0C963.4 981.2 965.2 969.8 967.4 960.0C969.5 950.2 971.7 940.4 973.9 931.0C976.1 921.6 978.2 912.0 980.4 903.9C982.6 895.8 984.7 888.9 986.9 882.2C989.1 875.5 991.2 869.0 993.4 863.8C995.6 858.5 997.4 855.7 999.9 850.7C1002.4 845.7 1006.2 838.3 1008.6 834.0C1011.0 829.8 1012.6 828.0 1014.6 825.3C1016.5 822.6 1018.5 820.2 1020.5 818.0C1022.5 815.8 1024.5 813.9 1026.5 812.1C1028.5 810.2 1030.5 808.7 1032.4 807.2C1034.4 805.7 1036.4 804.4 1038.4 803.2C1040.4 802.0 1042.4 801.0 1044.4 800.0C1046.4 799.0 1048.3 798.1 1050.3 797.3C1052.3 796.4 1054.3 795.7 1056.3 794.9C1058.3 794.2 1060.3 793.4 1062.3 792.7C1064.2 792.0 1066.2 791.3 1068.2 790.7C1070.2 790.0 1072.2 789.4 1074.2 788.8C1076.2 788.2 1078.2 787.6 1080.1 787.0C1082.1 786.4 1084.1 785.9 1086.1 785.3C1088.1 784.8 1090.1 784.3 1092.1 783.8C1094.1 783.3 1096.0 782.8 1098.0 782.4C1100.0 781.9 1102.0 781.5 1104.0 781.1C1106.0 780.6 1108.0 780.2 1110.0 779.9C1111.9 779.5 1113.9 779.1 1115.9 778.7C1117.9 778.4 1119.9 778.1 1121.9 777.7C1123.9 777.4 1125.9 777.1 1127.8 776.8C1129.8 776.5 1131.8 776.3 1133.8 776.0C1135.8 775.7 1137.8 775.5 1139.8 775.3C1141.8 775.0 1143.7 774.8 1145.7 774.6C1147.7 774.4 1149.7 774.2 1151.7 774.0C1153.7 773.8 1155.7 773.6 1157.6 773.5C1159.6 773.3 1161.6 773.2 1163.6 773.0C1165.6 772.9 1167.6 772.8 1169.6 772.6C1171.6 772.5 1173.5 772.4 1175.5 772.3C1177.5 772.2 1179.5 772.1 1181.5 772.0C1183.5 771.9 1185.5 771.8 1187.5 771.8C1189.4 771.7 1191.4 771.6 1193.4 771.6C1195.4 771.5 1197.4 771.5 1199.4 771.4C1201.4 771.4 1203.4 771.3 1205.3 771.3C1207.3 771.2 1209.3 771.2 1211.3 771.2C1213.3 771.1 1215.3 771.1 1217.3 771.1C1219.3 771.1 1221.2 771.1 1223.2 771.0C1225.2 771.0 1227.2 771.0 1229.2 771.0C1231.2 771.0 1233.2 771.0 1235.2 771.0C1237.1 771.0 1239.1 771.0 1241.1 770.9C1243.1 770.9 1245.1 770.9 1247.1 770.9C1249.1 770.9 1251.1 770.9 1253.0 770.9C1255.0 770.9 1257.0 770.9 1259.0 770.9C1261.0 770.8 1263.0 770.8 1265.0 770.8C1267.0 770.8 1268.9 770.8 1270.9 770.8C1272.9 770.8 1274.9 770.7 1276.9 770.7C1278.9 770.7 1280.9 770.7 1282.9 770.7C1284.8 770.6 1286.8 770.6 1288.8 770.6C1290.8 770.6 1292.8 770.6 1294.8 770.5C1296.8 770.5 1298.7 770.5 1300.7 770.5C1302.7 770.4 1304.7 770.4 1306.7 770.4C1308.7 770.4 1310.7 770.3 1312.7 770.3C1314.6 770.3 1316.6 770.3 1318.6 770.2C1320.6 770.2 1322.6 770.2 1324.6 770.1C1326.6 770.1 1328.6 770.1 1330.5 770.1C1332.5 770.0 1334.5 770.0 1336.5 770.0C1338.5 769.9 1340.5 769.9 1342.5 769.9C1344.5 769.8 1346.4 769.8 1348.4 769.8C1350.4 769.7 1352.4 769.7 1354.4 769.7C1356.4 769.6 1358.4 769.6 1360.4 769.6C1362.3 769.5 1364.3 769.5 1366.3 769.5C1368.3 769.4 1370.3 769.4 1372.3 769.4C1374.3 769.3 1376.3 769.3 1378.2 769.2C1380.2 769.2 1382.2 769.2 1384.2 769.1C1386.2 769.1 1388.2 769.1 1390.2 769.0C1392.2 769.0 1394.1 768.9 1396.1 768.9C1398.1 768.9 1400.1 768.8 1402.1 768.8C1404.1 768.7 1406.1 768.7 1408.1 768.7C1410.0 768.6 1412.0 768.6 1414.0 768.6C1416.0 768.5 1418.0 768.5 1420.0 768.4C1422.0 768.4 1424.0 768.4 1425.9 768.3C1427.9 768.3 1429.9 768.2 1431.9 768.2C1433.9 768.2 1435.9 768.1 1437.9 768.1C1439.9 768.0 1441.8 768.0 1443.8 768.0C1445.8 767.9 1447.8 767.9 1449.8 767.8C1451.8 767.8 1453.8 767.8 1455.7 767.7C1457.7 767.7 1459.7 767.7 1461.7 767.6C1463.7 767.6 1465.7 767.5 1467.7 767.5C1469.7 767.5 1471.6 767.4 1473.6 767.4C1475.6 767.3 1477.6 767.3 1479.6 767.3C1481.6 767.2 1483.6 767.2 1485.6 767.2C1487.5 767.1 1489.5 767.1 1491.5 767.1C1493.5 767.0 1495.5 767.0 1497.5 767.0C1499.5 766.9 1501.5 766.9 1503.4 766.8C1505.4 766.8 1507.4 766.8 1509.4 766.7C1511.4 766.7 1513.4 766.7 1515.4 766.6C1517.4 766.6 1519.3 766.6 1521.3 766.5C1523.3 766.5 1525.3 766.5 1527.3 766.5C1529.3 766.4 1531.3 766.4 1533.3 766.4C1535.2 766.3 1537.2 766.3 1539.2 766.3C1541.2 766.3 1543.2 766.2 1545.2 766.2C1547.2 766.2 1549.2 766.1 1551.1 766.1C1553.1 766.1 1555.1 766.1 1557.1 766.0C1559.1 766.0 1561.1 766.0 1563.1 766.0C1565.1 765.9 1567.0 765.9 1569.0 765.9C1571.0 765.9 1573.0 765.9 1575.0 765.8C1577.0 765.8 1579.0 765.8 1581.0 765.8C1582.9 765.8 1584.9 765.8 1586.9 765.7C1588.9 765.7 1590.9 765.7 1592.9 765.7C1594.9 765.7 1596.8 765.7 1598.8 765.6C1600.8 765.6 1602.8 765.6 1604.8 765.6C1606.8 765.6 1608.8 765.6 1610.8 765.6C1612.7 765.6 1614.7 765.6 1616.7 765.6C1618.7 765.5 1620.7 765.5 1622.7 765.5C1624.7 765.5 1626.7 765.5 1628.6 765.5C1630.6 765.5 1632.6 765.5 1634.6 765.5C1636.6 765.5 1638.6 765.5 1640.6 765.5C1642.6 765.5 1644.5 765.5 1646.5 765.5C1648.5 765.5 1650.5 765.5 1652.5 765.5C1654.5 765.6 1656.5 765.6 1658.5 765.6C1660.4 765.6 1662.4 765.6 1664.4 765.6C1666.4 765.6 1668.4 765.6 1670.4 765.6C1672.4 765.7 1674.4 765.7 1676.3 765.7C1678.3 765.7 1680.3 765.7 1682.3 765.7C1684.3 765.8 1686.3 765.8 1688.3 765.8C1690.3 765.8 1692.2 765.9 1694.2 765.9C1696.2 765.9 1698.2 765.9 1700.2 766.0C1702.2 766.0 1704.2 766.0 1706.2 766.0C1708.1 766.1 1710.1 766.1 1712.1 766.1C1714.1 766.2 1716.1 766.2 1718.1 766.3C1720.1 766.3 1722.1 766.3 1724.0 766.4C1726.0 766.4 1729.0 766.5 1730.0 766.5" stroke="#c65a2e"/>
<path d="M200.0 1124.0C203.7 1124.4 199.8 1125.2 222.0 1126.5C244.2 1127.8 295.7 1130.0 333.1 1132.1C370.5 1134.2 408.5 1137.3 446.2 1139.2C483.9 1141.1 525.0 1142.5 559.4 1143.4C593.8 1144.3 635.1 1145.4 652.7 1144.8C670.3 1144.2 663.0 1140.8 665.0 1140.0L668.0 1120.0L669.3 1085.0L669.8 1072.0L670.6 1120.0L671.5 1180.0L672.8 1168.0L675.5 1155.0C676.2 1154.6 677.6 1153.0 680.0 1152.5C682.4 1152.0 662.8 1152.0 690.0 1151.7C717.2 1151.4 808.1 1151.0 843.1 1150.4C878.1 1149.8 883.0 1149.0 900.0 1148.0C917.0 1147.0 934.5 1145.5 945.0 1144.3C955.5 1143.1 956.2 1142.4 963.0 1141.0C969.8 1139.6 980.5 1137.2 985.9 1135.7C991.2 1134.2 992.4 1134.0 995.1 1132.3C997.8 1130.6 999.9 1129.0 1002.0 1125.4C1004.1 1121.8 1006.0 1115.8 1007.7 1110.5C1009.4 1105.2 1011.0 1100.0 1012.3 1093.3C1013.6 1086.6 1014.6 1079.9 1015.7 1070.3C1016.9 1060.7 1018.1 1045.5 1019.2 1035.9C1020.4 1026.4 1021.6 1018.2 1022.6 1013.0C1023.6 1007.8 1023.9 1003.5 1024.9 1004.5C1025.9 1005.5 1027.1 1012.5 1028.4 1018.7C1029.8 1024.9 1031.5 1035.7 1033.0 1041.6C1034.5 1047.5 1035.8 1053.4 1037.5 1054.0C1039.2 1054.6 1041.6 1050.0 1043.3 1045.1C1045.0 1040.2 1046.6 1031.7 1047.9 1024.4C1049.2 1017.1 1050.0 1011.6 1051.3 1001.5C1052.5 991.4 1053.4 982.5 1055.4 964.0C1057.4 945.5 1060.2 910.8 1063.2 890.8C1066.2 870.8 1069.5 856.8 1073.7 843.7C1077.9 830.6 1084.8 818.8 1088.2 812.1C1091.6 805.4 1092.2 806.1 1094.2 803.6C1096.2 801.0 1098.2 798.8 1100.2 796.8C1102.2 794.9 1104.2 793.2 1106.2 791.6C1108.2 790.1 1110.2 788.8 1112.2 787.6C1114.2 786.5 1116.2 785.5 1118.2 784.5C1120.2 783.6 1122.2 782.8 1124.2 782.0C1126.2 781.2 1128.2 780.6 1130.2 779.9C1132.2 779.3 1134.2 778.8 1136.2 778.3C1138.2 777.8 1140.2 777.4 1142.2 777.1C1144.2 776.7 1146.2 776.4 1148.2 776.1C1150.2 775.8 1152.2 775.6 1154.2 775.4C1156.2 775.2 1158.2 775.0 1160.2 774.9C1162.2 774.7 1164.2 774.6 1166.2 774.5C1168.2 774.4 1170.2 774.3 1172.2 774.2C1174.2 774.1 1176.2 774.0 1178.2 773.9C1180.2 773.8 1182.2 773.7 1184.2 773.6C1186.2 773.6 1188.2 773.5 1190.2 773.4C1192.2 773.3 1194.2 773.2 1196.2 773.1C1198.2 773.0 1200.2 772.9 1202.2 772.9C1204.2 772.8 1206.2 772.7 1208.2 772.6C1210.2 772.5 1212.2 772.4 1214.2 772.4C1216.2 772.3 1218.2 772.2 1220.2 772.1C1222.2 772.0 1224.2 772.0 1226.2 771.9C1228.2 771.8 1230.2 771.7 1232.2 771.7C1234.2 771.6 1236.2 771.5 1238.2 771.4C1240.2 771.4 1242.2 771.3 1244.2 771.2C1246.2 771.2 1248.2 771.1 1250.1 771.0C1252.1 771.0 1254.1 770.9 1256.1 770.8C1258.1 770.8 1260.1 770.7 1262.1 770.6C1264.1 770.6 1266.1 770.5 1268.1 770.4C1270.1 770.4 1272.1 770.3 1274.1 770.3C1276.1 770.2 1278.1 770.1 1280.1 770.1C1282.1 770.0 1284.1 770.0 1286.1 769.9C1288.1 769.8 1290.1 769.8 1292.1 769.7C1294.1 769.7 1296.1 769.6 1298.1 769.6C1300.1 769.5 1302.1 769.5 1304.1 769.4C1306.1 769.4 1308.1 769.3 1310.1 769.3C1312.1 769.2 1314.1 769.2 1316.1 769.1C1318.1 769.1 1320.1 769.0 1322.1 769.0C1324.1 768.9 1326.1 768.9 1328.1 768.8C1330.1 768.8 1332.1 768.8 1334.1 768.7C1336.1 768.7 1338.1 768.6 1340.1 768.6C1342.1 768.5 1344.1 768.5 1346.1 768.5C1348.1 768.4 1350.1 768.4 1352.1 768.3C1354.1 768.3 1356.1 768.3 1358.1 768.2C1360.1 768.2 1362.1 768.2 1364.1 768.1C1366.1 768.1 1368.1 768.1 1370.1 768.0C1372.1 768.0 1374.1 768.0 1376.1 767.9C1378.1 767.9 1380.1 767.9 1382.1 767.8C1384.1 767.8 1386.1 767.8 1388.1 767.7C1390.1 767.7 1392.1 767.7 1394.1 767.6C1396.1 767.6 1398.1 767.6 1400.1 767.6C1402.1 767.5 1404.1 767.5 1406.1 767.5C1408.1 767.5 1410.1 767.4 1412.1 767.4C1414.1 767.4 1416.1 767.4 1418.1 767.3C1420.1 767.3 1422.1 767.3 1424.1 767.3C1426.1 767.2 1428.1 767.2 1430.1 767.2C1432.1 767.2 1434.1 767.1 1436.1 767.1C1438.1 767.1 1440.1 767.1 1442.1 767.1C1444.1 767.0 1446.1 767.0 1448.1 767.0C1450.1 767.0 1452.1 767.0 1454.1 767.0C1456.1 766.9 1458.1 766.9 1460.1 766.9C1462.1 766.9 1464.1 766.9 1466.1 766.9C1468.1 766.8 1470.1 766.8 1472.1 766.8C1474.1 766.8 1476.1 766.8 1478.1 766.8C1480.1 766.8 1482.1 766.7 1484.1 766.7C1486.1 766.7 1488.1 766.7 1490.1 766.7C1492.1 766.7 1494.1 766.7 1496.1 766.7C1498.1 766.6 1500.1 766.6 1502.1 766.6C1504.1 766.6 1506.1 766.6 1508.1 766.6C1510.1 766.6 1512.1 766.6 1514.1 766.6C1516.1 766.6 1518.1 766.6 1520.1 766.5C1522.1 766.5 1524.1 766.5 1526.1 766.5C1528.1 766.5 1530.1 766.5 1532.1 766.5C1534.1 766.5 1536.1 766.5 1538.1 766.5C1540.1 766.5 1542.1 766.5 1544.1 766.5C1546.1 766.5 1548.1 766.4 1550.1 766.4C1552.1 766.4 1554.1 766.4 1556.1 766.4C1558.1 766.4 1560.1 766.4 1562.1 766.4C1564.1 766.4 1566.1 766.4 1568.1 766.4C1570.0 766.4 1572.0 766.4 1574.0 766.4C1576.0 766.4 1578.0 766.4 1580.0 766.4C1582.0 766.4 1584.0 766.4 1586.0 766.4C1588.0 766.4 1590.0 766.4 1592.0 766.4C1594.0 766.4 1596.0 766.4 1598.0 766.4C1600.0 766.4 1602.0 766.3 1604.0 766.3C1606.0 766.3 1608.0 766.3 1610.0 766.3C1612.0 766.3 1614.0 766.3 1616.0 766.3C1618.0 766.3 1620.0 766.3 1622.0 766.3C1624.0 766.3 1626.0 766.3 1628.0 766.3C1630.0 766.3 1632.0 766.3 1634.0 766.3C1636.0 766.3 1638.0 766.3 1640.0 766.3C1642.0 766.3 1644.0 766.3 1646.0 766.3C1648.0 766.3 1650.0 766.3 1652.0 766.3C1654.0 766.3 1656.0 766.3 1658.0 766.3C1660.0 766.3 1662.0 766.3 1664.0 766.3C1666.0 766.3 1668.0 766.3 1670.0 766.3C1672.0 766.3 1674.0 766.3 1676.0 766.3C1678.0 766.3 1680.0 766.3 1682.0 766.3C1684.0 766.3 1686.0 766.3 1688.0 766.3C1690.0 766.3 1692.0 766.3 1694.0 766.3C1696.0 766.3 1698.0 766.3 1700.0 766.3C1702.0 766.3 1704.0 766.3 1706.0 766.3C1708.0 766.3 1710.0 766.3 1712.0 766.3C1714.0 766.3 1716.0 766.3 1718.0 766.3C1720.0 766.3 1722.0 766.3 1724.0 766.3C1726.0 766.3 1729.0 766.3 1730.0 766.3" stroke="#d9b035"/>
<path d="M200.0 1140.0C203.7 1140.4 199.8 1141.3 222.0 1142.6C244.2 1143.9 295.7 1146.2 333.1 1147.7C370.5 1149.2 408.5 1151.0 446.2 1151.9C483.9 1152.8 526.4 1153.1 559.4 1153.3C592.4 1153.5 627.7 1154.2 644.2 1153.3C660.7 1152.4 654.8 1149.6 658.3 1147.7C661.8 1145.8 663.9 1143.0 665.0 1142.0L668.0 1125.0L669.3 1095.0L669.8 1082.0L670.6 1140.0L671.5 1202.5L672.8 1188.0L675.5 1168.0C676.2 1167.0 672.6 1163.3 680.0 1162.0C687.4 1160.7 691.7 1160.8 720.0 1160.4C748.3 1160.0 805.0 1159.8 850.0 1159.5C895.0 1159.2 953.6 1159.6 990.0 1158.9C1026.4 1158.2 1051.8 1156.3 1068.5 1155.5C1085.2 1154.7 1083.1 1155.4 1090.0 1154.3C1096.9 1153.2 1105.0 1150.9 1110.1 1148.9C1115.2 1146.9 1117.9 1145.1 1120.8 1142.2C1123.7 1139.3 1125.7 1136.2 1127.5 1131.5C1129.3 1126.8 1130.4 1121.5 1131.5 1114.1C1132.6 1106.7 1133.5 1097.3 1134.2 1087.3C1134.9 1077.2 1135.1 1066.1 1135.6 1053.8C1136.0 1041.5 1136.5 1024.4 1136.9 1013.6C1137.3 1002.8 1137.5 989.0 1138.2 989.0C1138.9 989.0 1139.9 1002.8 1140.9 1013.6C1141.9 1024.4 1143.2 1043.9 1144.3 1053.8C1145.4 1063.7 1146.4 1071.2 1147.6 1073.0C1148.8 1074.8 1150.5 1068.8 1151.6 1064.5C1152.7 1060.2 1153.4 1055.6 1154.3 1047.1C1155.2 1038.6 1156.2 1024.8 1157.0 1013.6C1157.8 1002.4 1158.4 990.7 1159.0 980.1C1159.6 969.5 1160.0 963.4 1160.5 950.0C1161.0 936.6 1161.5 912.0 1162.2 900.0C1162.9 888.0 1163.6 884.7 1164.5 878.0C1165.4 871.3 1166.0 869.3 1167.4 860.0C1168.8 850.7 1170.8 831.9 1173.1 822.2C1175.4 812.5 1178.7 806.5 1181.0 801.6C1183.3 796.6 1185.0 794.8 1187.0 792.4C1189.0 789.9 1190.9 788.3 1192.9 786.8C1194.9 785.3 1196.9 784.4 1198.9 783.4C1200.9 782.5 1202.9 781.8 1204.9 781.1C1206.9 780.4 1208.8 779.7 1210.8 779.2C1212.8 778.7 1214.8 778.2 1216.8 777.8C1218.8 777.3 1220.8 777.0 1222.8 776.7C1224.8 776.4 1226.8 776.1 1228.7 775.8C1230.7 775.6 1232.7 775.4 1234.7 775.1C1236.7 774.9 1238.7 774.7 1240.7 774.5C1242.7 774.3 1244.7 774.1 1246.6 773.9C1248.6 773.7 1250.6 773.5 1252.6 773.4C1254.6 773.2 1256.6 773.0 1258.6 772.8C1260.6 772.6 1262.6 772.5 1264.5 772.3C1266.5 772.1 1268.5 772.0 1270.5 771.8C1272.5 771.6 1274.5 771.5 1276.5 771.3C1278.5 771.2 1280.5 771.0 1282.4 770.9C1284.4 770.7 1286.4 770.6 1288.4 770.5C1290.4 770.3 1292.4 770.2 1294.4 770.1C1296.4 769.9 1298.4 769.8 1300.3 769.7C1302.3 769.6 1304.3 769.5 1306.3 769.3C1308.3 769.2 1310.3 769.1 1312.3 769.0C1314.3 768.9 1316.3 768.8 1318.2 768.7C1320.2 768.6 1322.2 768.5 1324.2 768.4C1326.2 768.3 1328.2 768.2 1330.2 768.1C1332.2 768.0 1334.2 768.0 1336.2 767.9C1338.1 767.8 1340.1 767.7 1342.1 767.6C1344.1 767.6 1346.1 767.5 1348.1 767.4C1350.1 767.4 1352.1 767.3 1354.1 767.2C1356.0 767.2 1358.0 767.1 1360.0 767.0C1362.0 767.0 1364.0 766.9 1366.0 766.9C1368.0 766.8 1370.0 766.8 1372.0 766.7C1373.9 766.7 1375.9 766.6 1377.9 766.6C1379.9 766.5 1381.9 766.5 1383.9 766.5C1385.9 766.4 1387.9 766.4 1389.9 766.4C1391.8 766.3 1393.8 766.3 1395.8 766.3C1397.8 766.2 1399.8 766.2 1401.8 766.2C1403.8 766.2 1405.8 766.1 1407.8 766.1C1409.8 766.1 1411.7 766.1 1413.7 766.1C1415.7 766.0 1417.7 766.0 1419.7 766.0C1421.7 766.0 1423.7 766.0 1425.7 766.0C1427.7 766.0 1429.6 766.0 1431.6 765.9C1433.6 765.9 1435.6 765.9 1437.6 765.9C1439.6 765.9 1441.6 765.9 1443.6 765.9C1445.6 765.9 1447.5 765.9 1449.5 765.9C1451.5 765.9 1453.5 765.9 1455.5 765.9C1457.5 765.9 1459.5 766.0 1461.5 766.0C1463.5 766.0 1465.4 766.0 1467.4 766.0C1469.4 766.0 1471.4 766.0 1473.4 766.0C1475.4 766.0 1477.4 766.0 1479.4 766.1C1481.4 766.1 1483.3 766.1 1485.3 766.1C1487.3 766.1 1489.3 766.1 1491.3 766.2C1493.3 766.2 1495.3 766.2 1497.3 766.2C1499.3 766.2 1501.2 766.2 1503.2 766.3C1505.2 766.3 1507.2 766.3 1509.2 766.3C1511.2 766.3 1513.2 766.4 1515.2 766.4C1517.2 766.4 1519.2 766.4 1521.1 766.5C1523.1 766.5 1525.1 766.5 1527.1 766.5C1529.1 766.5 1531.1 766.6 1533.1 766.6C1535.1 766.6 1537.1 766.6 1539.0 766.7C1541.0 766.7 1543.0 766.7 1545.0 766.7C1547.0 766.8 1549.0 766.8 1551.0 766.8C1553.0 766.8 1555.0 766.8 1556.9 766.9C1558.9 766.9 1560.9 766.9 1562.9 766.9C1564.9 767.0 1566.9 767.0 1568.9 767.0C1570.9 767.0 1572.9 767.0 1574.8 767.1C1576.8 767.1 1578.8 767.1 1580.8 767.1C1582.8 767.1 1584.8 767.2 1586.8 767.2C1588.8 767.2 1590.8 767.2 1592.8 767.2C1594.7 767.2 1596.7 767.3 1598.7 767.3C1600.7 767.3 1602.7 767.3 1604.7 767.3C1606.7 767.3 1608.7 767.3 1610.7 767.3C1612.6 767.4 1614.6 767.4 1616.6 767.4C1618.6 767.4 1620.6 767.4 1622.6 767.4C1624.6 767.4 1626.6 767.4 1628.6 767.4C1630.5 767.4 1632.5 767.4 1634.5 767.4C1636.5 767.4 1638.5 767.4 1640.5 767.4C1642.5 767.4 1644.5 767.4 1646.5 767.4C1648.4 767.4 1650.4 767.4 1652.4 767.4C1654.4 767.4 1656.4 767.4 1658.4 767.3C1660.4 767.3 1662.4 767.3 1664.4 767.3C1666.3 767.3 1668.3 767.3 1670.3 767.3C1672.3 767.2 1674.3 767.2 1676.3 767.2C1678.3 767.2 1680.3 767.1 1682.3 767.1C1684.2 767.1 1686.2 767.0 1688.2 767.0C1690.2 767.0 1692.2 767.0 1694.2 766.9C1696.2 766.9 1698.2 766.8 1700.2 766.8C1702.2 766.8 1704.1 766.7 1706.1 766.7C1708.1 766.6 1710.1 766.6 1712.1 766.5C1714.1 766.5 1716.1 766.4 1718.1 766.4C1720.1 766.3 1722.0 766.2 1724.0 766.2C1726.0 766.1 1729.0 766.0 1730.0 766.0" stroke="#6d3580"/>
</g>
<path d="M286.5 34.3v9M286.5 717.2v-9M385.3 34.3v9M385.3 717.2v-9M466.0 34.3v9M466.0 717.2v-9M534.3 34.3v9M534.3 717.2v-9M593.4 34.3v9M593.4 717.2v-9M645.6 34.3v9M645.6 717.2v-9M999.1 34.3v9M999.1 717.2v-9M1178.6 34.3v9M1178.6 717.2v-9M1306.0 34.3v9M1306.0 717.2v-9M1404.8 34.3v9M1404.8 717.2v-9M1485.5 34.3v9M1485.5 717.2v-9M1553.8 34.3v9M1553.8 717.2v-9M1612.9 34.3v9M1612.9 717.2v-9M1665.1 34.3v9M1665.1 717.2v-9M286.5 763.8v9M286.5 1370.3v-9M385.3 763.8v9M385.3 1370.3v-9M466.0 763.8v9M466.0 1370.3v-9M534.3 763.8v9M534.3 1370.3v-9M593.4 763.8v9M593.4 1370.3v-9M645.6 763.8v9M645.6 1370.3v-9M999.1 763.8v9M999.1 1370.3v-9M1178.6 763.8v9M1178.6 1370.3v-9M1306.0 763.8v9M1306.0 1370.3v-9M1404.8 763.8v9M1404.8 1370.3v-9M1485.5 763.8v9M1485.5 1370.3v-9M1553.8 763.8v9M1553.8 1370.3v-9M1612.9 763.8v9M1612.9 1370.3v-9M1665.1 763.8v9M1665.1 1370.3v-9" stroke="#5a5a5a" stroke-width="1.7" fill="none"/>
<path d="M222.5 34.3H1709.8V717.2H222.5ZM692.2 34.3v15M692.2 717.2v-15M222.5 149.8h15M1709.8 149.8h-15M222.5 336.9h15M1709.8 336.9h-15M222.5 524.0h15M1709.8 524.0h-15M222.5 711.1h15M1709.8 711.1h-15M222.5 763.8H1709.8V1370.3H222.5ZM692.2 763.8v15M692.2 1370.3v-15M222.5 966.5h15M1709.8 966.5h-15M222.5 1168.3h15M1709.8 1168.3h-15" stroke="#333" stroke-width="2.6" fill="none"/>
<text class="tk" x="202.5" y="172.3" text-anchor="end">0</text>
<text class="tk" x="205.0" y="358.8" text-anchor="end">-20</text>
<text class="tk" x="205.0" y="545.0" text-anchor="end">-40</text>
<text class="tk" x="205.0" y="729.0" text-anchor="end">-60</text>
<text class="tk" x="202.5" y="788.5" text-anchor="end">-<tspan dx="-3.5">270</tspan></text>
<text class="tk" x="202.5" y="988.5" text-anchor="end">-<tspan dx="-3.0">360</tspan></text>
<text class="tk" x="202.5" y="1186.5" text-anchor="end">-<tspan dx="-3.0">450</tspan></text>
<text class="tk" x="202.5" y="1387.0" text-anchor="end">-<tspan dx="-2.0">540</tspan></text>
<text class="tk" x="653.5" y="1455" style="letter-spacing:2px">10</text>
<text class="tk" x="704.3" y="1433" style="font-size:37px;letter-spacing:0">3</text>
<text class="tk" x="1675.6" y="1455.5" style="letter-spacing:2px">10</text>
<text class="tk" x="1725.5" y="1433" style="font-size:37px;letter-spacing:0">4</text>
<text class="lb" x="771" y="1522">Frequency&#160; (Hz)</text>
<text class="lb" transform="translate(107.3 375) rotate(-90)" text-anchor="middle">Magnitude (dB)</text>
<text class="lb" transform="translate(79.5 1067) rotate(-90)" text-anchor="middle">Phase (deg)</text>
<g class="rd">
<text x="1229.3" y="154.7" style="font-style:italic;font-size:114px;letter-spacing:1.15px">Increasing</text>
<text x="299.7" y="555.2" style="font-style:italic;font-size:114px;letter-spacing:1.15px">Increasing</text>
<text x="1427" y="290.5" style="font-size:113px">&#955;</text>
<text transform="translate(1480.6 300.6) scale(1.22 1)" style="font-size:48px">L</text>
<text x="498" y="690.7" style="font-size:113px">&#955;</text>
<text transform="translate(552.0 700.8) scale(1.22 1)" style="font-size:48px">L</text>
<text x="307" y="155.2" style="font-size:69px">4</text>
<text x="381" y="155.2" style="font-size:69px">3</text>
<text x="455" y="155.2" style="font-size:69px">2</text>
<text x="533" y="155.2" style="font-size:69px">1</text>
</g>
<g stroke="#ff0000" stroke-linecap="round" fill="none">
<path d="M339 181.6L385.7 302.8M408.1 181.6L506.3 275.3M501.8 181.6L570 248.4" stroke-width="5.2"/>
<path d="M579.1 168.4L622.3 209.1" stroke-width="4.6"/>
<path d="M802 134H1150" stroke-width="7.4"/>
<path d="M701.5 153C730 210 742 290 739.8 330C737.5 380 728 420 713 452" stroke-width="6"/>
</g>
<path d="M1183 134L1144 114.3Q1152 134 1144 152.7Z" fill="#ff0000"/>
<path d="M701.5 477L700.8 441L730.7 454.8Z" fill="#ff0000"/>
</svg></body></html>
